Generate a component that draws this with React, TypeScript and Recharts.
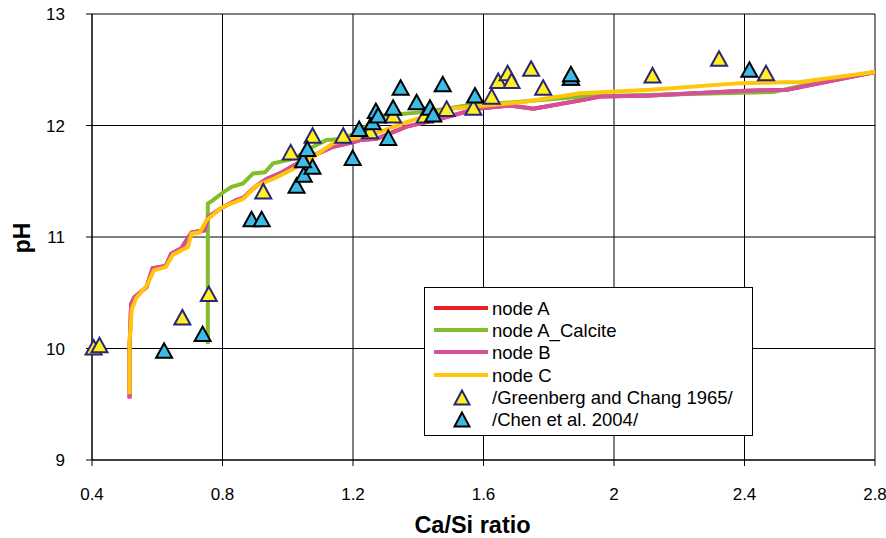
import React from 'react';
import {
  ComposedChart,
  Line,
  Scatter,
  XAxis,
  YAxis,
  CartesianGrid,
} from 'recharts';

// Modelled pH against Ca/Si ratio for the four node runs
const nodeA = [
  { x: 0.515, ph: 9.56 }, { x: 0.515, ph: 10.0 }, { x: 0.52, ph: 10.4 }, { x: 0.53, ph: 10.46 },
  { x: 0.567, ph: 10.55 }, { x: 0.586, ph: 10.72 }, { x: 0.626, ph: 10.74 }, { x: 0.643, ph: 10.85 },
  { x: 0.674, ph: 10.9 }, { x: 0.705, ph: 11.04 }, { x: 0.746, ph: 11.06 }, { x: 0.756, ph: 11.18 },
  { x: 0.802, ph: 11.27 }, { x: 0.843, ph: 11.33 }, { x: 0.863, ph: 11.35 }, { x: 0.904, ph: 11.46 },
  { x: 0.935, ph: 11.52 }, { x: 0.976, ph: 11.57 }, { x: 1.017, ph: 11.64 }, { x: 1.078, ph: 11.73 },
  { x: 1.139, ph: 11.81 }, { x: 1.2, ph: 11.85 }, { x: 1.221, ph: 11.87 }, { x: 1.272, ph: 11.88 },
  { x: 1.364, ph: 11.99 }, { x: 1.456, ph: 12.05 }, { x: 1.579, ph: 12.15 }, { x: 1.681, ph: 12.18 },
  { x: 1.753, ph: 12.15 }, { x: 1.906, ph: 12.23 }, { x: 1.957, ph: 12.26 }, { x: 2.111, ph: 12.27 },
  { x: 2.387, ph: 12.31 }, { x: 2.53, ph: 12.32 }, { x: 2.8, ph: 12.48 },
];

const nodeACalcite = [
  { x: 0.755, ph: 10.04 }, { x: 0.755, ph: 11.3 }, { x: 0.771, ph: 11.33 }, { x: 0.802, ph: 11.4 },
  { x: 0.828, ph: 11.45 }, { x: 0.863, ph: 11.48 }, { x: 0.894, ph: 11.57 }, { x: 0.93, ph: 11.58 },
  { x: 0.955, ph: 11.66 }, { x: 1.017, ph: 11.7 }, { x: 1.078, ph: 11.81 }, { x: 1.119, ph: 11.87 },
  { x: 1.17, ph: 11.88 }, { x: 1.211, ph: 11.94 }, { x: 1.293, ph: 12.09 }, { x: 1.415, ph: 12.12 },
  { x: 1.548, ph: 12.18 }, { x: 1.702, ph: 12.21 }, { x: 1.906, ph: 12.26 }, { x: 2.2, ph: 12.28 },
  { x: 2.489, ph: 12.3 }, { x: 2.58, ph: 12.36 }, { x: 2.8, ph: 12.48 },
];

const nodeB = [
  { x: 0.515, ph: 9.55 }, { x: 0.515, ph: 10.0 }, { x: 0.52, ph: 10.4 }, { x: 0.53, ph: 10.46 },
  { x: 0.567, ph: 10.55 }, { x: 0.586, ph: 10.72 }, { x: 0.626, ph: 10.74 }, { x: 0.643, ph: 10.85 },
  { x: 0.674, ph: 10.9 }, { x: 0.705, ph: 11.04 }, { x: 0.746, ph: 11.06 }, { x: 0.756, ph: 11.18 },
  { x: 0.802, ph: 11.27 }, { x: 0.843, ph: 11.33 }, { x: 0.863, ph: 11.35 }, { x: 0.904, ph: 11.46 },
  { x: 0.935, ph: 11.52 }, { x: 0.976, ph: 11.57 }, { x: 1.017, ph: 11.64 }, { x: 1.078, ph: 11.73 },
  { x: 1.139, ph: 11.81 }, { x: 1.2, ph: 11.85 }, { x: 1.221, ph: 11.87 }, { x: 1.272, ph: 11.88 },
  { x: 1.364, ph: 11.99 }, { x: 1.456, ph: 12.05 }, { x: 1.579, ph: 12.15 }, { x: 1.681, ph: 12.18 },
  { x: 1.753, ph: 12.15 }, { x: 1.906, ph: 12.23 }, { x: 1.957, ph: 12.26 }, { x: 2.111, ph: 12.27 },
  { x: 2.387, ph: 12.31 }, { x: 2.53, ph: 12.32 }, { x: 2.8, ph: 12.48 },
];

const nodeC = [
  { x: 0.515, ph: 9.59 }, { x: 0.515, ph: 10.05 }, { x: 0.522, ph: 10.35 }, { x: 0.535, ph: 10.45 },
  { x: 0.567, ph: 10.56 }, { x: 0.59, ph: 10.7 }, { x: 0.626, ph: 10.73 }, { x: 0.648, ph: 10.84 },
  { x: 0.694, ph: 10.91 }, { x: 0.705, ph: 11.03 }, { x: 0.73, ph: 11.04 }, { x: 0.751, ph: 11.15 },
  { x: 0.8, ph: 11.27 }, { x: 0.863, ph: 11.34 }, { x: 0.904, ph: 11.46 }, { x: 0.955, ph: 11.52 },
  { x: 1.017, ph: 11.61 }, { x: 1.078, ph: 11.72 }, { x: 1.139, ph: 11.84 }, { x: 1.2, ph: 11.88 },
  { x: 1.262, ph: 11.92 }, { x: 1.364, ph: 12.03 }, { x: 1.497, ph: 12.15 }, { x: 1.722, ph: 12.21 },
  { x: 1.896, ph: 12.29 }, { x: 2.111, ph: 12.32 }, { x: 2.387, ph: 12.38 }, { x: 2.571, ph: 12.39 },
  { x: 2.8, ph: 12.48 },
];

// Measured data
const greenberg1965 = [
  { x: 0.405, ph: 10.0 }, { x: 0.423, ph: 10.02 }, { x: 0.677, ph: 10.27 }, { x: 0.758, ph: 10.48 },
  { x: 0.925, ph: 11.4 }, { x: 1.009, ph: 11.75 }, { x: 1.076, ph: 11.9 }, { x: 1.17, ph: 11.9 },
  { x: 1.252, ph: 11.94 }, { x: 1.323, ph: 12.08 }, { x: 1.42, ph: 12.08 }, { x: 1.487, ph: 12.14 },
  { x: 1.569, ph: 12.15 }, { x: 1.625, ph: 12.25 }, { x: 1.645, ph: 12.39 }, { x: 1.674, ph: 12.46 },
  { x: 1.686, ph: 12.39 }, { x: 1.746, ph: 12.5 }, { x: 1.783, ph: 12.33 }, { x: 1.868, ph: 12.42 },
  { x: 2.118, ph: 12.44 }, { x: 2.322, ph: 12.59 }, { x: 2.466, ph: 12.46 },
];

const chen2004 = [
  { x: 0.621, ph: 9.97 }, { x: 0.739, ph: 10.12 }, { x: 0.889, ph: 11.15 }, { x: 0.92, ph: 11.15 },
  { x: 1.027, ph: 11.45 }, { x: 1.049, ph: 11.55 }, { x: 1.076, ph: 11.62 }, { x: 1.047, ph: 11.68 },
  { x: 1.06, ph: 11.78 }, { x: 1.199, ph: 11.7 }, { x: 1.219, ph: 11.96 }, { x: 1.26, ph: 12.02 },
  { x: 1.27, ph: 12.12 }, { x: 1.277, ph: 12.08 }, { x: 1.308, ph: 11.88 }, { x: 1.323, ph: 12.15 },
  { x: 1.346, ph: 12.33 }, { x: 1.395, ph: 12.2 }, { x: 1.436, ph: 12.15 }, { x: 1.446, ph: 12.09 },
  { x: 1.475, ph: 12.36 }, { x: 1.574, ph: 12.26 }, { x: 1.868, ph: 12.42 }, { x: 1.868, ph: 12.45 },
  { x: 2.415, ph: 12.49 },
];

const xTicks = [0.4, 0.8, 1.2, 1.6, 2, 2.4, 2.8];
const yTicks = [9, 10, 11, 12, 13];

const FONT = '"Liberation Sans", Arial, sans-serif';

const lineSeries = [
  { name: 'node A', data: nodeA, color: '#ed1c24' },
  { name: 'node A_Calcite', data: nodeACalcite, color: '#84bd2b' },
  { name: 'node B', data: nodeB, color: '#d4509a' },
  { name: 'node C', data: nodeC, color: '#ffc60b' },
];

const pointSeries = [
  { name: '/Greenberg and Chang 1965/', data: greenberg1965, fill: '#fff01f', stroke: '#2b2577' },
  { name: '/Chen et al. 2004/', data: chen2004, fill: '#3cbbe6', stroke: '#000000' },
];

const triangle = (fill: string, stroke: string) => (props: any) => {
  const { cx, cy } = props;
  if (cx == null || cy == null) return <g />;
  const pts = `${cx},${cy - 8.5} ${cx - 8},${cy + 6} ${cx + 8},${cy + 6}`;
  return <polygon points={pts} fill={fill} stroke={stroke} strokeWidth={2} strokeLinejoin="miter" />;
};

const LegendBox = () => (
  <div
    style={{
      position: 'absolute',
      left: 424,
      top: 287,
      width: 329,
      height: 149,
      border: '1px solid #000',
      background: '#fff',
      boxSizing: 'border-box',
      paddingTop: 10,
      fontFamily: FONT,
      fontSize: 18.5,
      color: '#000',
    }}
  >
    {lineSeries.map((s) => (
      <div key={s.name} style={{ height: 22.2, display: 'flex', alignItems: 'center' }}>
        <svg width={67} height={22} style={{ flex: 'none' }}>
          <line x1={9} x2={63} y1={10} y2={10} stroke={s.color} strokeWidth={4} />
        </svg>
        <span style={{ lineHeight: '22px' }}>{s.name}</span>
      </div>
    ))}
    {pointSeries.map((s) => (
      <div key={s.name} style={{ height: 22.2, display: 'flex', alignItems: 'center' }}>
        <svg width={67} height={22} style={{ flex: 'none' }}>
          <polygon points="37,3.5 29.5,17.5 44.5,17.5" fill={s.fill} stroke={s.stroke} strokeWidth={2} />
        </svg>
        <span style={{ lineHeight: '22px' }}>{s.name}</span>
      </div>
    ))}
  </div>
);

export default function App() {
  return (
    <div style={{ position: 'absolute', left: 0, top: 0, width: 886, height: 538, background: '#fff' }}>
      <ComposedChart
        width={886}
        height={538}
        margin={{ top: 14, right: 11, left: 8, bottom: 8 }}
      >
        <CartesianGrid stroke="#000" strokeWidth={1} />
        <XAxis
          type="number"
          dataKey="x"
          domain={[0.4, 2.8]}
          ticks={xTicks}
          height={70}
          stroke="#000"
          tickSize={6}
          tickMargin={22}
          tick={{ fill: '#000', fontSize: 17, fontFamily: FONT }}
          label={{
            content: ({ viewBox }: any) => (
              <text
                x={viewBox.x + viewBox.width / 2 - 11}
                y={viewBox.y + 73}
                textAnchor="middle"
                fontFamily={FONT}
                fontWeight="bold"
                fontSize={23.5}
                fill="#000"
              >
                Ca/Si ratio
              </text>
            ),
          }}
        />
        <YAxis
          type="number"
          dataKey="ph"
          domain={[9, 13]}
          ticks={yTicks}
          width={84}
          stroke="#000"
          tickSize={6}
          tickMargin={21}
          tick={{ fill: '#000', fontSize: 17, fontFamily: FONT }}
          label={{
            content: ({ viewBox }: any) => {
              const cx = viewBox.x + 14;
              const cy = viewBox.y + viewBox.height / 2 + 1;
              return (
                <text
                  x={cx}
                  y={cy}
                  transform={`rotate(-90 ${cx} ${cy})`}
                  textAnchor="middle"
                  dominantBaseline="central"
                  fontFamily={FONT}
                  fontWeight="bold"
                  fontSize={23}
                  fill="#000"
                >
                  pH
                </text>
              );
            },
          }}
        />
        {lineSeries.map((s) => (
          <Line
            key={s.name}
            name={s.name}
            data={s.data}
            dataKey="ph"
            type="linear"
            stroke={s.color}
            strokeWidth={4}
            dot={false}
            activeDot={false}
            isAnimationActive={false}
          />
        ))}
        {pointSeries.map((s) => (
          <Scatter
            key={s.name}
            name={s.name}
            data={s.data}
            dataKey="ph"
            shape={triangle(s.fill, s.stroke)}
            isAnimationActive={false}
          />
        ))}
      </ComposedChart>
      <LegendBox />
    </div>
  );
}
